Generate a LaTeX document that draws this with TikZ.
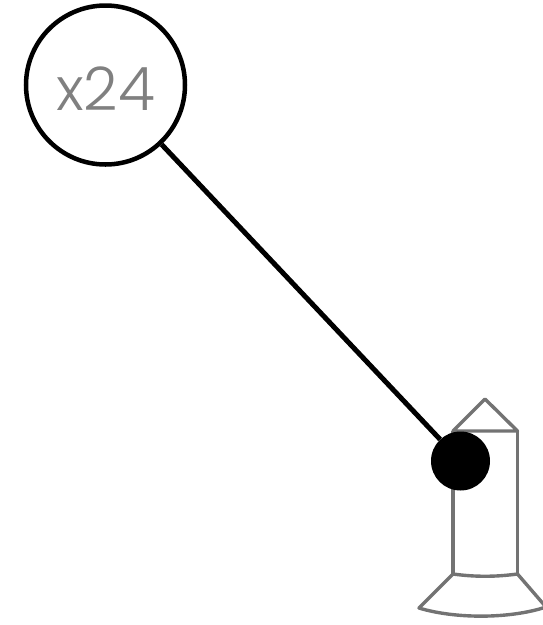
\documentclass[tikz,border=0pt]{standalone}
\usepackage{fontspec}
\newfontfamily\countfont{Poppins Light}
\usepackage{tikz}
\begin{document}
\begin{tikzpicture}[
    x=1pt, y=-1pt,
    countnode/.style={circle, draw=black, fill=white, line width=4.5pt, inner sep=0pt, minimum size=159pt, text=black!50, font=\countfont\fontsize{60}{60}\selectfont},
    pinnode/.style={circle, fill=black, inner sep=0pt, minimum size=59pt},
    rocketline/.style={draw=black!55, line width=3.4pt, line join=round}
    ]
        \useasboundingbox (0,0) rectangle (543,625);

        %Rocket
        \coordinate (tip) at (485,399);
        \coordinate (topL) at (453,431);
        \coordinate (topR) at (517.5,431);
        \coordinate (botL) at (453,574);
        \coordinate (botR) at (517.5,574);
        \coordinate (finL) at (419,608);
        \coordinate (finR) at (546,607);
        \draw[rocketline] (topL) -- (tip) -- (topR) -- cycle;
        \draw[rocketline] (topL) -- (botL);
        \draw[rocketline] (topR) -- (botR);
        \draw[rocketline] (botL) .. controls (475,577) and (495,577) .. (botR);
        \draw[rocketline] (botL) -- (finL) .. controls (455,619) and (510,619) .. (finR);
        \draw[rocketline] (botR) -- (finR);

        %Nodes
        \node[countnode]
            (count)     at (105.5,85)   {\raisebox{-25pt}[0pt][0pt]{x24}};
        \node[pinnode]
            (pin)       at (460.5,461)  {};

        %Lines
        \draw[draw=black, line width=5pt]
            (count) -- (pin);
    \end{tikzpicture}
\end{document}
